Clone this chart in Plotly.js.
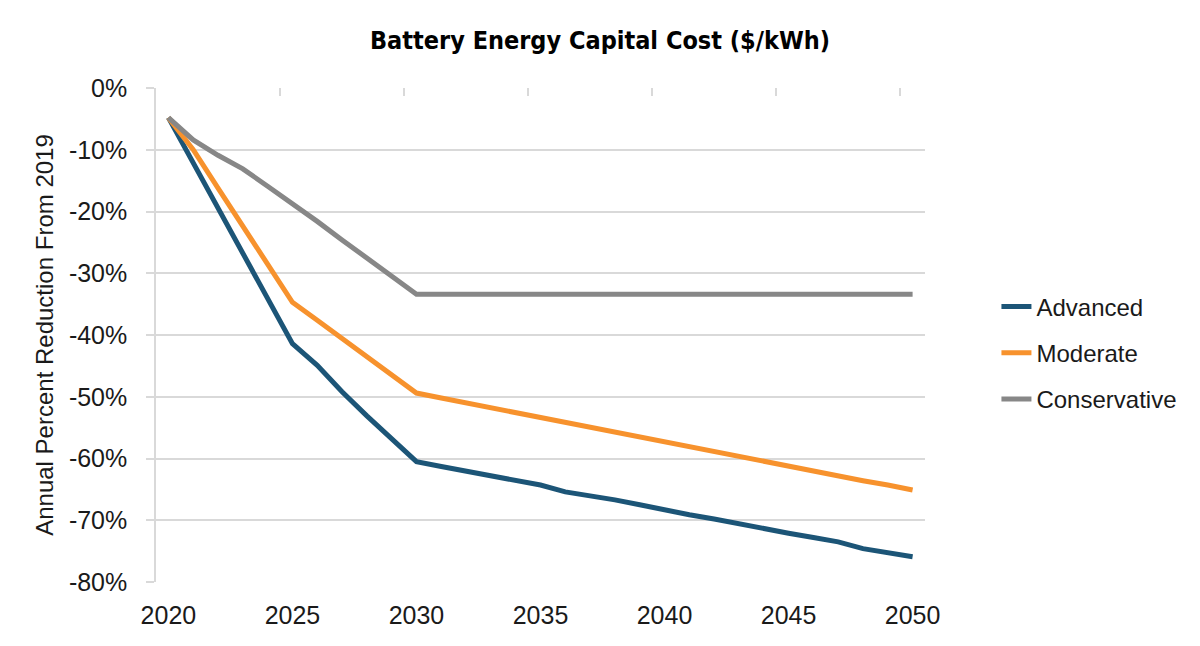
<!DOCTYPE html>
<html>
<head>
<meta charset="utf-8">
<script src="https://cdn.plot.ly/plotly-3.0.1.min.js"></script>
<style>html,body{margin:0;padding:0;background:#fff;}#chart{width:1200px;height:646px;}</style>
</head>
<body>
<div id="chart"></div>
<script>
var years = [2020,2021,2022,2023,2024,2025,2026,2027,2028,2029,2030,
             2031,2032,2033,2034,2035,2036,2037,2038,2039,2040,
             2041,2042,2043,2044,2045,2046,2047,2048,2049,2050];

var advanced = [-4.8,-12.1,-19.4,-26.7,-34.0,-41.4,-44.9,-49.2,-53.1,-56.7,-60.5,
                -61.3,-62.1,-62.9,-63.5,-64.3,-65.4,-66.0,-66.7,-67.5,-68.4,
                -69.1,-69.8,-70.6,-71.5,-72.1,-72.8,-73.5,-74.6,-75.3,-75.9];

var moderate = [-4.8,-10.0,-16.2,-22.4,-28.5,-34.7,-37.6,-40.5,-43.5,-46.4,-49.4,
                -50.2,-51.0,-51.8,-52.6,-53.4,-54.2,-55.0,-55.8,-56.6,-57.3,
                -58.1,-58.9,-59.7,-60.5,-61.2,-62.0,-62.8,-63.6,-64.3,-65.1];

var conservative = [-4.8,-8.4,-10.9,-13.1,-15.9,-18.7,-21.6,-24.6,-27.5,-30.4,-33.4,
                    -33.4,-33.4,-33.4,-33.4,-33.4,-33.4,-33.4,-33.4,-33.4,-33.4,
                    -33.4,-33.4,-33.4,-33.4,-33.4,-33.4,-33.4,-33.4,-33.4,-33.4];

var seriesNames = ['Advanced','Moderate','Conservative'];

var xTickVals = [2020,2025,2030,2035,2040,2045,2050];
var xTickText = ['2020','2025','2030','2035','2040','2045','2050'];
var xBoundaryTicks = [2019.5,2024.5,2029.5,2034.5,2039.5,2044.5,2049.5];

var yTickVals = [0,-10,-20,-30,-40,-50,-60,-70,-80];
var yTickText = ['0%','-10%','-20%','-30%','-40%','-50%','-60%','-70%','-80%'];

var titleText = 'Battery Energy Capital Cost ($/kWh)';
var yTitleText = 'Annual Percent Reduction From 2019';

var colors = ['#1C5577','#F7922D','#878787'];
var seriesData = [advanced, moderate, conservative];

var traces = seriesData.map(function(vals, i){
  return {
    x: years, y: vals, type: 'scatter', mode: 'lines',
    name: seriesNames[i], legendgroup: 'g' + i,
    line: {color: colors[i], width: 5, shape: 'linear'},
    hoverinfo: 'x+y+name'
  };
});
// helper trace carrying the top axis with category-boundary tick marks
traces.push({
  x: years, y: conservative, xaxis: 'x2', yaxis: 'y', type: 'scatter', mode: 'lines',
  line: {width: 0, color: 'rgba(0,0,0,0)'}, showlegend: false, hoverinfo: 'skip'
});

var baseFont = 'Liberation Sans, Arial, sans-serif';
var grid = '#D9D9D9';

var layout = {
  width: 1200, height: 646,
  paper_bgcolor: '#ffffff', plot_bgcolor: '#ffffff',
  margin: {l: 156, r: 275.4, t: 88, b: 64, autoexpand: false},
  font: {family: baseFont, color: '#1a1a1a'},
  title: {
    text: '<b>' + titleText + '</b>',
    font: {family: 'Liberation Sans Narrow, DejaVu Sans Condensed, Arial Narrow, sans-serif', size: 25, color: '#000'},
    x: 0.5, xref: 'container', xanchor: 'center',
    y: 1 - 40/646, yref: 'container', yanchor: 'middle'
  },
  xaxis: {
    range: [2019.5, 2050.5], tickmode: 'array', tickvals: xTickVals, ticktext: xTickText,
    showgrid: false, zeroline: false, showline: false, ticks: '',
    tickfont: {size: 25, color: '#1a1a1a'}, ticklabelstandoff: 16
  },
  xaxis2: {
    overlaying: 'x', side: 'top', anchor: 'y', matches: 'x',
    tickmode: 'array', tickvals: xBoundaryTicks,
    ticks: 'inside', ticklen: 8, tickwidth: 1.5, tickcolor: grid,
    showticklabels: false, showgrid: false, zeroline: false, showline: false
  },
  yaxis: {
    range: [-80, 0], tickmode: 'array', tickvals: yTickVals, ticktext: yTickText,
    showgrid: true, gridcolor: grid, gridwidth: 1.5,
    zeroline: false, showline: true, linecolor: grid, linewidth: 1.5,
    ticks: 'outside', ticklen: 8, tickwidth: 1.5, tickcolor: grid,
    tickfont: {size: 25, color: '#1a1a1a'}, ticklabelstandoff: 14,
    title: {text: yTitleText, font: {size: 24, color: '#1a1a1a'}, standoff: 8}
  },
  showlegend: true,
  legend: {
    x: 1.0929, xanchor: 'left', y: 0.4636, yanchor: 'middle',
    font: {size: 24, color: '#1a1a1a'}, tracegroupgap: 12,
    bgcolor: 'rgba(0,0,0,0)', borderwidth: 0
  },
  hovermode: 'closest'
};

Plotly.newPlot('chart', traces, layout, {displayModeBar: false});
</script>
</body>
</html>
